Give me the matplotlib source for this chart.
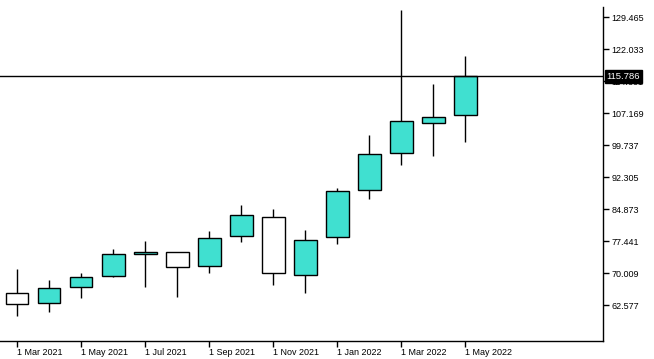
import numpy as np
import matplotlib
matplotlib.use("Agg")
import matplotlib.pyplot as plt
import matplotlib.transforms as mtransforms

plt.rcParams["font.family"] = ["Liberation Sans", "DejaVu Sans"]

# monthly candles, Mar 2021 .. May 2022
months = ["Mar 2021", "Apr 2021", "May 2021", "Jun 2021", "Jul 2021", "Aug 2021",
          "Sep 2021", "Oct 2021", "Nov 2021", "Dec 2021", "Jan 2022", "Feb 2022",
          "Mar 2022", "Apr 2022", "May 2022"]
opens = [65.36, 63.04, 66.76, 69.31, 74.42, 74.88, 71.63, 78.60, 83.08, 69.54,
         78.37, 89.28, 97.88, 104.84, 106.70]
highs = [71.01, 68.45, 70.08, 75.65, 77.51, 74.95, 79.83, 85.87, 84.94, 80.06,
         89.93, 102.13, 131.16, 113.97, 120.47]
lows = [60.16, 61.09, 64.34, 69.20, 66.90, 64.57, 70.15, 77.35, 67.36, 65.50,
        76.88, 87.33, 95.23, 97.32, 100.57]
closes = [62.81, 66.52, 69.08, 74.42, 74.95, 71.40, 78.14, 83.55, 70.01, 77.67,
          89.05, 97.64, 105.31, 106.24, 115.786]

last_price = 115.786
yticks = [62.577, 70.009, 77.441, 84.873, 92.305, 99.737, 107.169, 114.601, 122.033, 129.465]
xtick_labels = ["1 Mar 2021", "1 May 2021", "1 Jul 2021", "1 Sep 2021",
                "1 Nov 2021", "1 Jan 2022", "1 Mar 2022", "1 May 2022"]

up_color = "#40E0D0"
down_color = "white"

fig = plt.figure(figsize=(6.54, 3.59), dpi=100)
ax = fig.add_axes([0.0, 0.0501, 0.922, 0.9304])

x = np.arange(len(months))
o = np.array(opens)
c = np.array(closes)
colors = [up_color if cc >= oo else down_color for oo, cc in zip(o, c)]

ax.vlines(x, lows, highs, color="black", lw=1.0, zorder=2)
body_bottom = np.minimum(o, c)
body_height = np.abs(c - o)
ax.bar(x, body_height, bottom=body_bottom, width=0.7, color=colors,
       edgecolor="black", linewidth=1.0, zorder=3)

ax.axhline(last_price, color="black", lw=1.0, zorder=4)

ax.set_xlim(-0.54, 18.30)
ax.set_ylim(54.286, 131.857)

ax.spines["top"].set_visible(False)
ax.spines["left"].set_visible(False)
ax.spines["right"].set_linewidth(1.0)
ax.spines["bottom"].set_linewidth(1.0)

ax.yaxis.tick_right()
ax.set_yticks(yticks)
ax.set_yticklabels(["%.3f" % v for v in yticks])
ax.tick_params(axis="y", direction="out", length=4, width=1, pad=2, labelsize=6.5)

ax.set_xticks(x[::2])
ax.set_xticklabels(xtick_labels, ha="left")
ax.tick_params(axis="x", direction="out", length=4, width=1, pad=1, labelsize=6.5)

# last price label on the right scale
trans = mtransforms.blended_transform_factory(ax.transAxes, ax.transData)
ax.text(1.006, last_price, "%.3f" % last_price, transform=trans, ha="left", va="center",
        color="white", fontsize=6.8, zorder=10, clip_on=False,
        bbox=dict(boxstyle="square,pad=0.2", fc="black", ec="black"))

fig.savefig("out.png", dpi=100)
